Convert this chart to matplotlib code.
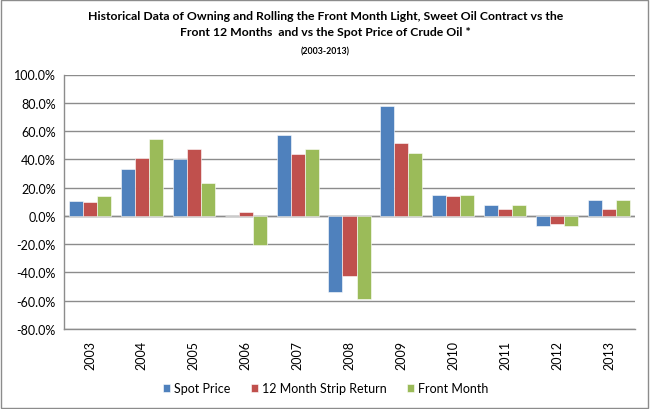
import matplotlib
matplotlib.use("Agg")
import matplotlib.pyplot as plt
import numpy as np
from matplotlib.ticker import FuncFormatter
from matplotlib.patches import Rectangle

years = ["2003", "2004", "2005", "2006", "2007", "2008", "2009", "2010", "2011", "2012", "2013"]
spot_price = [10.8, 33.5, 40.3, 0.0, 57.1, -54.0, 77.8, 14.9, 7.8, -7.5, 11.1]
strip_12m = [9.9, 40.8, 47.6, 2.4, 43.6, -42.7, 51.9, 13.9, 5.2, -5.9, 4.7]
front_month = [13.9, 54.2, 23.1, -20.5, 47.2, -58.5, 44.3, 14.9, 7.8, -7.5, 11.1]
series_names = ["Spot Price", "12 Month Strip Return", "Front Month"]
colors = ["#4F81BD", "#C0504D", "#9BBB59"]

plt.rcParams['font.family'] = ['Lato', 'DejaVu Sans']

fig = plt.figure(figsize=(6.51, 4.10), dpi=100)
ax = fig.add_axes([64/651, 1 - 330/410, (635-64)/651, (330-75.5)/410])

x = np.arange(len(years))
w = 0.27
for i, (vals, name, c) in enumerate(zip([spot_price, strip_12m, front_month], series_names, colors)):
    ax.bar(x + (i - 1) * w, vals, width=w, color=c, label=name,
           edgecolor='white', linewidth=0.4, zorder=3)

ax.set_ylim(-80, 100)
ax.set_xlim(-0.5, len(years) - 0.5)
ax.set_yticks(np.arange(-80, 101, 20))
ax.yaxis.set_major_formatter(FuncFormatter(lambda v, p: f"{v:.1f}%"))
ax.set_xticks(x)
ax.set_xticklabels(years, rotation=90)
ax.tick_params(axis='both', length=0, labelsize=9, colors='black')
ax.tick_params(axis='x', pad=8)
ax.tick_params(axis='y', pad=6)
ax.grid(axis='y', color='#8C8C8C', linewidth=1.0, zorder=0)
ax.axhline(0, color='#8C8C8C', linewidth=1.0, zorder=2)
for s in ['top', 'right']:
    ax.spines[s].set_visible(False)
for s in ['left', 'bottom']:
    ax.spines[s].set_color('#8C8C8C')
    ax.spines[s].set_linewidth(1.0)

fig.text(0.5, 1 - 17/410, "Historical Data of Owning and Rolling the Front Month Light, Sweet Oil Contract vs the",
         ha='center', va='center', fontsize=8.8, fontweight='bold')
fig.text(0.5, 1 - 33/410, "Front 12 Months  and vs the Spot Price of Crude Oil *",
         ha='center', va='center', fontsize=8.8, fontweight='bold')
fig.text(0.5, 1 - 52/410, "(2003-2013)", ha='center', va='center', fontsize=6.3, fontweight='bold')

fig.legend(loc='center', bbox_to_anchor=(0.5, 1 - 389/410), ncol=3, frameon=False,
           fontsize=9, handlelength=0.6, handleheight=0.6, handletextpad=0.3, columnspacing=1.6)

fig.patches.append(Rectangle((0.002, 0.002), 0.993, 0.995, transform=fig.transFigure,
                             fill=False, edgecolor='#8C8C8C', linewidth=1.0))

fig.savefig("out.png", dpi=100)
